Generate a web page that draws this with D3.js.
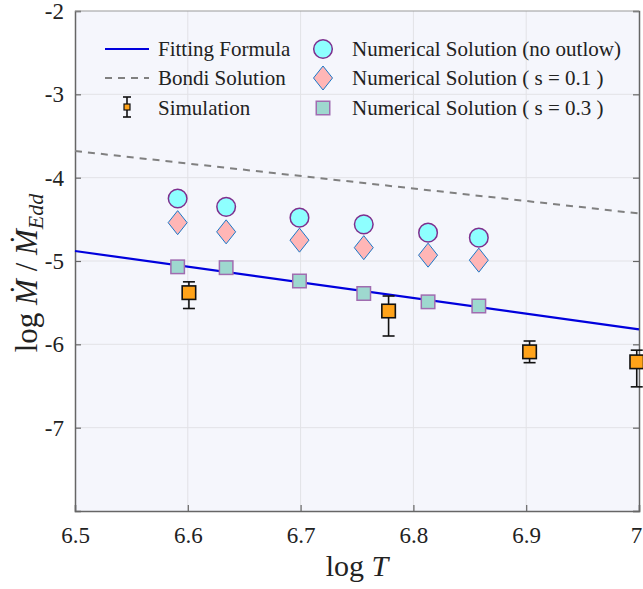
<!DOCTYPE html>
<html>
<head>
<meta charset="utf-8">
<script src="https://cdn.jsdelivr.net/npm/d3@7"></script>
<style>
  body { margin: 0; background: #fff; }
</style>
</head>
<body>
<svg width="643" height="589"></svg>
<script>
// values
const xTicks = [6.5, 6.6, 6.7, 6.8, 6.9, 7];
const yTicks = [-2, -3, -4, -5, -6, -7];

const fitX = [6.5, 7.0];
const fitY = [-4.88, -5.82];
const bondiX = [6.5, 7.0];
const bondiY = [-3.68, -4.43];

const numX = [6.591, 6.634, 6.699, 6.756, 6.813, 6.858];
const noOutflow = [-4.25, -4.35, -4.48, -4.56, -4.66, -4.72];
const s01 = [-4.54, -4.65, -4.75, -4.84, -4.93, -4.99];
const s03 = [-5.07, -5.08, -5.24, -5.39, -5.49, -5.54];

const simX = [6.601, 6.778, 6.903, 6.998];
const simY = [-5.38, -5.60, -6.09, -6.21];
const simLo = [-5.57, -5.90, -6.22, -6.51];
const simHi = [-5.25, -5.42, -5.96, -6.07];

const serif = "'Liberation Serif', 'Times New Roman', serif";
const plotL = 75, plotR = 639, plotT = 11, plotB = 511;

const x = d3.scaleLinear().domain([6.5, 7]).range([plotL, plotR]);
const y = d3.scaleLinear().domain([-8, -2]).range([plotB, plotT]);

const svg = d3.select("svg");

svg.append("rect")
   .attr("x", plotL).attr("y", plotT)
   .attr("width", plotR - plotL).attr("height", plotB - plotT)
   .attr("fill", "#f5f6fc");

// grid
svg.append("g").selectAll("line")
   .data(xTicks.slice(1, -1))
   .join("line")
   .attr("x1", d => x(d)).attr("x2", d => x(d))
   .attr("y1", plotT).attr("y2", plotB)
   .attr("stroke", "#e2e2e6").attr("stroke-width", 1);
svg.append("g").selectAll("line")
   .data(yTicks.slice(1))
   .join("line")
   .attr("x1", plotL).attr("x2", plotR)
   .attr("y1", d => y(d)).attr("y2", d => y(d))
   .attr("stroke", "#e2e2e6").attr("stroke-width", 1);

// axes (ticks point inward)
const axisColor = "#666";
const xAxis = d3.axisBottom(x).tickValues(xTicks).tickSize(-6).tickPadding(16)
                .tickFormat(d3.format("~g"));
const yAxis = d3.axisLeft(y).tickValues(yTicks).tickSize(-6).tickPadding(11)
                .tickFormat(d => d);

const gx = svg.append("g").attr("transform", "translate(0," + plotB + ")").call(xAxis);
svg.append("g").attr("transform", "translate(" + plotL + ",0)").call(yAxis);
svg.append("g").attr("transform", "translate(" + plotR + ",0)")
   .call(d3.axisRight(y).tickValues(yTicks.concat([-8])).tickSize(-6).tickFormat(""));
svg.append("line").attr("x1", plotL).attr("x2", plotR).attr("y1", plotT).attr("y2", plotT)
   .attr("stroke", "#999").attr("stroke-width", 1);

svg.selectAll(".domain").attr("stroke", axisColor).attr("stroke-width", 1.5);
svg.selectAll(".tick line").attr("stroke", axisColor).attr("stroke-width", 1.2);
svg.selectAll(".tick text").style("font-size", "23px").attr("fill", "#222");
// keep the last x label inside the window
gx.selectAll(".tick text").filter(d => d === 7).attr("dx", -3);

// lines
const line = d3.line().x(d => x(d[0])).y(d => y(d[1]));
svg.append("path")
   .datum(bondiX.map((v, i) => [v, bondiY[i]]))
   .attr("d", line).attr("fill", "none")
   .attr("stroke", "#808080").attr("stroke-width", 2).attr("stroke-dasharray", "7,6");
svg.append("path")
   .datum(fitX.map((v, i) => [v, fitY[i]]))
   .attr("d", line).attr("fill", "none")
   .attr("stroke", "#0000dd").attr("stroke-width", 2.2);

// markers
function circleMark(g, cx, cy) {
  g.append("circle").attr("cx", cx).attr("cy", cy).attr("r", 9.3)
   .attr("fill", "#8effff").attr("stroke", "#7e2f8e").attr("stroke-width", 1.5);
}
function diamondMark(g, cx, cy) {
  g.append("path")
   .attr("d", `M${cx},${cy - 12}L${cx + 9.5},${cy}L${cx},${cy + 12}L${cx - 9.5},${cy}Z`)
   .attr("fill", "#ffb6b6").attr("stroke", "#1a78c8").attr("stroke-width", 1);
}
function squareMark(g, cx, cy, s, fill, stroke, sw) {
  g.append("rect").attr("x", cx - s / 2).attr("y", cy - s / 2)
   .attr("width", s).attr("height", s)
   .attr("fill", fill).attr("stroke", stroke).attr("stroke-width", sw);
}
function errorBar(g, cx, y1, y2, cap) {
  g.append("line").attr("x1", cx).attr("x2", cx).attr("y1", y1).attr("y2", y2)
   .attr("stroke", "#111").attr("stroke-width", 1.6);
  [y1, y2].forEach(v => g.append("line").attr("x1", cx - cap).attr("x2", cx + cap)
     .attr("y1", v).attr("y2", v).attr("stroke", "#111").attr("stroke-width", 1.6));
}

const marks = svg.append("g");
numX.forEach((v, i) => {
  circleMark(marks, x(v), y(noOutflow[i]));
  diamondMark(marks, x(v), y(s01[i]));
  squareMark(marks, x(v), y(s03[i]), 13.5, "#9ed8cf", "#a06cb0", 1.5);
});
simX.forEach((v, i) => {
  errorBar(marks, x(v), y(simHi[i]), y(simLo[i]), 6);
  squareMark(marks, x(v), y(simY[i]), 13.5, "#ffa31a", "#111", 1.6);
});

// legend
const lg = svg.append("g");
const legFont = "21px";
const rowsY = [49, 78, 108];
lg.append("line").attr("x1", 105).attr("x2", 149).attr("y1", rowsY[0]).attr("y2", rowsY[0])
  .attr("stroke", "#0000dd").attr("stroke-width", 2);
lg.append("line").attr("x1", 105).attr("x2", 149).attr("y1", rowsY[1]).attr("y2", rowsY[1])
  .attr("stroke", "#808080").attr("stroke-width", 2).attr("stroke-dasharray", "7,6");
errorBar(lg, 127, rowsY[2] - 11, rowsY[2] + 9, 4);
squareMark(lg, 127, rowsY[2] - 1, 6, "#ffa31a", "#111", 1.2);
const leftLabels = ["Fitting Formula", "Bondi Solution", "Simulation"];
leftLabels.forEach((t, i) => lg.append("text").attr("x", 158).attr("y", rowsY[i] + 7)
  .style("font-size", legFont).text(t));

circleMark(lg, 323, rowsY[0]);
diamondMark(lg, 323, rowsY[1]);
squareMark(lg, 323, rowsY[2], 13.5, "#9ed8cf", "#a06cb0", 1.5);
const rightLabels = ["Numerical Solution (no outlow)", "Numerical Solution ( s = 0.1 )",
                     "Numerical Solution ( s = 0.3 )"];
rightLabels.forEach((t, i) => lg.append("text").attr("x", 352).attr("y", rowsY[i] + 7)
  .style("font-size", legFont).text(t));

// axis titles
const xt = svg.append("text").attr("x", (plotL + plotR) / 2).attr("y", 576)
  .attr("text-anchor", "middle").style("font-size", "30px");
xt.append("tspan").text("log ");
xt.append("tspan").style("font-style", "italic").text("T");

const yt = svg.append("text")
  .attr("transform", "translate(37,273) rotate(-90)")
  .attr("text-anchor", "middle").style("font-size", "31px");
yt.append("tspan").text("log ");
yt.append("tspan").style("font-style", "italic").text("\u1E40");
yt.append("tspan").text(" / ");
yt.append("tspan").style("font-style", "italic").text("\u1E40");
yt.append("tspan").style("font-style", "italic").style("font-size", "22px")
  .attr("dy", 6).text("Edd");

svg.selectAll("text").style("font-family", serif).attr("fill", "#222");
</script>
</body>
</html>
